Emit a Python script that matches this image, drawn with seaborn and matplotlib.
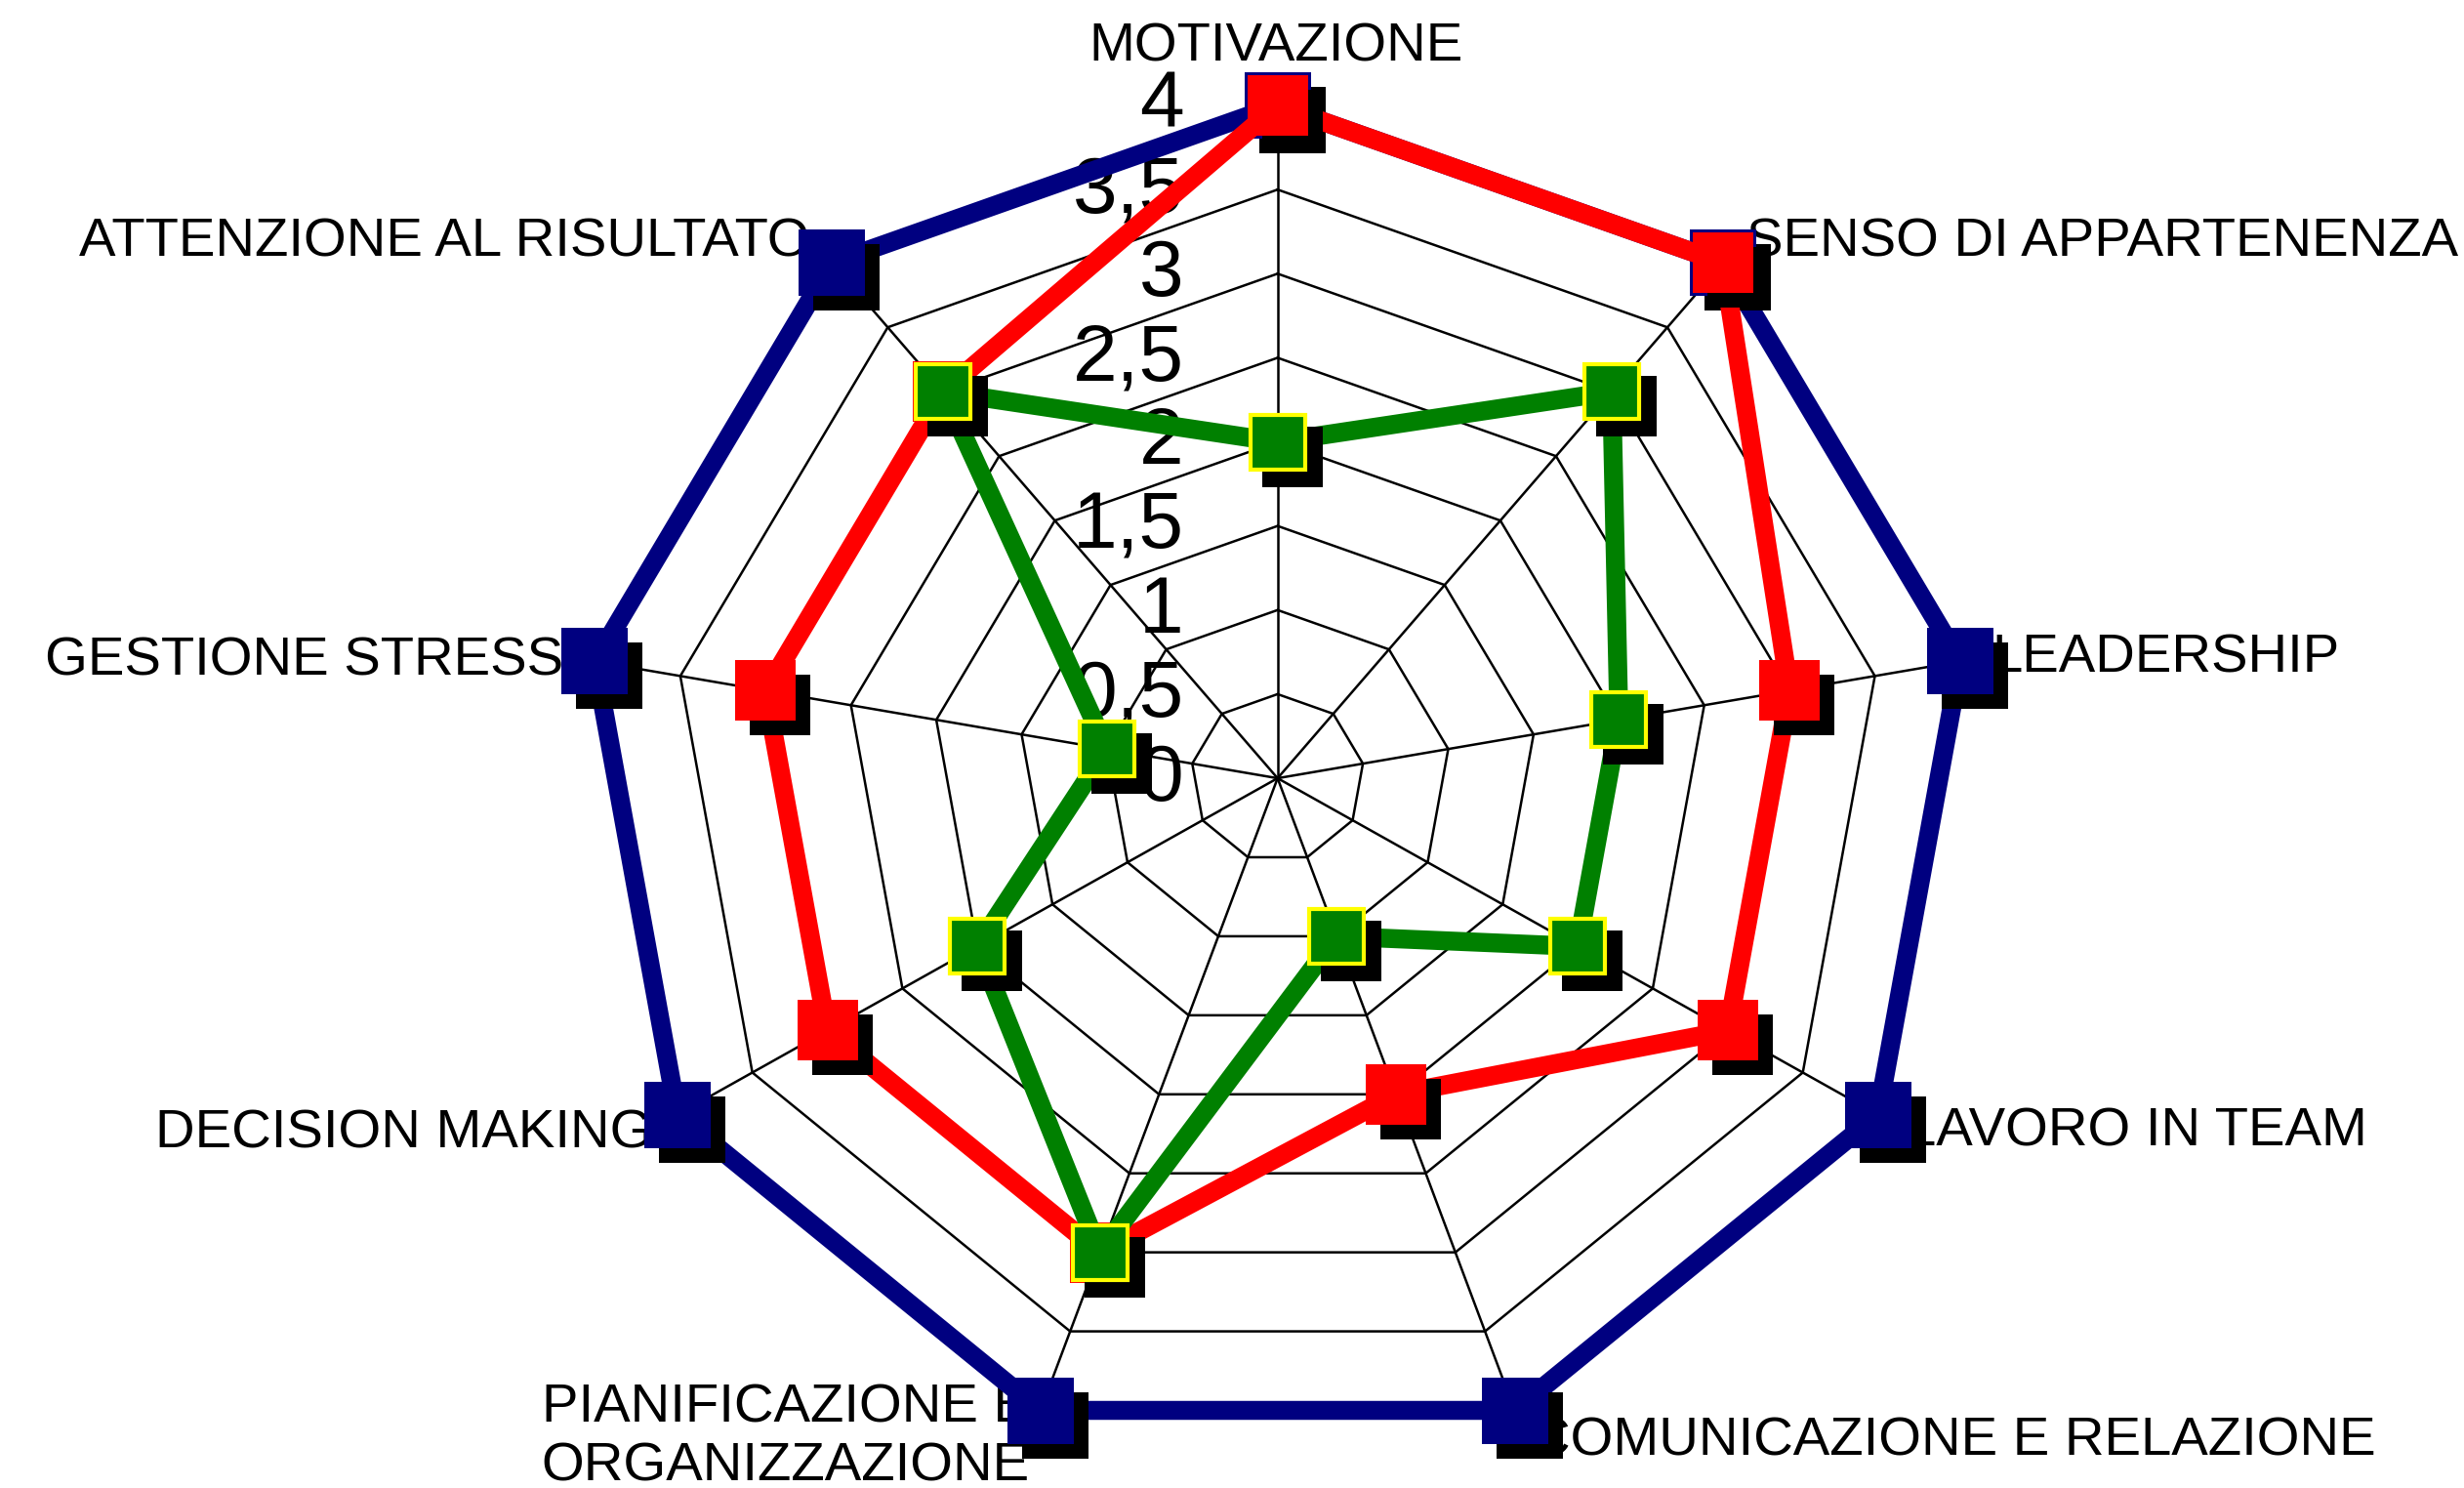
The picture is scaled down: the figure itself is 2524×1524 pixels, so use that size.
import numpy as np
import pandas as pd
import matplotlib
matplotlib.use("Agg")
import matplotlib.pyplot as plt
import seaborn as sns
from matplotlib.transforms import ScaledTranslation

# dati (scala 0-4)
categorie = ["MOTIVAZIONE", "SENSO DI APPARTENENZA", "LEADERSHIP", "LAVORO IN TEAM",
             "COMUNICAZIONE E RELAZIONE", "PIANIFICAZIONE E\nORGANIZZAZIONE",
             "DECISION MAKING", "GESTIONE STRESS", "ATTENZIONE AL RISULTATO"]
punteggio_massimo = [4, 4, 4, 4, 4, 4, 4, 4, 4]
punteggio_atteso = [4, 4, 3, 3, 2, 3, 3, 3, 3]
punteggio_rilevato = [2, 3, 2, 2, 1, 3, 2, 1, 3]
livelli = [0, 0.5, 1, 1.5, 2, 2.5, 3, 3.5, 4]
etichette_livelli = ["0", "0,5", "1", "1,5", "2", "2,5", "3", "3,5", "4"]

# stile: (nome, valori, colore riempimento, colore bordo, lato marker pt, bordo pt)
stili = [
    ("massimo", punteggio_massimo, "#000080", "#000080", 49, 0),
    ("atteso", punteggio_atteso, "#ff0000", "#ff0000", 44.5, 0),
    ("rilevato", punteggio_rilevato, "#008000", "#ffff00", 41, 3),
]

# posizione delle etichette rispetto al vertice (punti), allineamento
pos_etichette = [(-1.4, 61.3, "center"), (17.5, 34, "left"), (23.3, 21, "left"),
                 (20.4, 5.5, "left"), (11.7, -4.2, "left"), (-7.9, 20.5, "right"),
                 (-18.2, 4.1, "right"), (-23.3, 18.9, "right"), (-16.5, 34, "right")]

n = len(categorie)
angoli = np.arange(n) * 2 * np.pi / n
angoli_chiusi = np.append(angoli, 2 * np.pi)

righe = []
for nome, valori, *_ in stili:
    for a, v in zip(angoli_chiusi, valori + valori[:1]):
        righe.append({"serie": nome, "angolo": a, "punteggio": v})
df = pd.DataFrame(righe)

sns.set_theme(style="white")
plt.rcParams["font.family"] = ["Liberation Sans", "DejaVu Sans"]

fig = plt.figure(figsize=(25.24, 15.24), dpi=100)
ax = fig.add_axes([0.2372, 0.0249, 0.5626, 0.9042], projection="polar")
ax.set_theta_offset(np.pi / 2)
ax.set_theta_direction(-1)
ax.set_aspect("auto")

# griglia poligonale
for lv in livelli[1:]:
    ax.plot(angoli_chiusi, [lv] * (n + 1), color="black", lw=1.8, zorder=1.5, clip_on=False)
for a in angoli:
    ax.plot([a, a], [0, 4], color="black", lw=1.8, zorder=1.5, clip_on=False)

ombra = ax.transData + ScaledTranslation(10.8 / 72, -10.8 / 72, fig.dpi_scale_trans)

for i, (nome, valori, colore, bordo, lato, spess) in enumerate(stili):
    sub = df[df["serie"] == nome]
    sns.lineplot(data=sub, x="angolo", y="punteggio", sort=False, estimator=None,
                 color=colore, linewidth=14, ax=ax, legend=False,
                 zorder=3 + 3 * i, clip_on=False)
    ax.plot(angoli, valori, ls="none", marker="s", ms=lato + spess, mfc="black",
            mec="black", mew=0, transform=ombra, zorder=4 + 3 * i, clip_on=False)
    ax.plot(angoli, valori, ls="none", marker="s", ms=lato, mfc=colore,
            mec=bordo, mew=spess, zorder=5 + 3 * i, clip_on=False)

# etichette dei livelli lungo l'asse verticale
for lv, et in zip(livelli, etichette_livelli):
    ax.annotate(et, xy=(0, lv), xytext=(-69, 26), textcoords="offset points",
                ha="right", va="top", fontsize=59, color="black", zorder=1,
                annotation_clip=False)

# nomi delle categorie
for cat, a, (dx, dy, ha) in zip(categorie, angoli, pos_etichette):
    ax.annotate(cat, xy=(a, 4), xytext=(dx, dy), textcoords="offset points",
                ha=ha, va="top", fontsize=40.5, color="black", multialignment="left",
                zorder=2, annotation_clip=False)

ax.set_ylim(0, 4)
ax.set_xticks([])
ax.set_yticks([])
ax.set_xlabel("")
ax.set_ylabel("")
ax.grid(False)
ax.spines["polar"].set_visible(False)

fig.savefig("out.png", dpi=100, facecolor="white")
